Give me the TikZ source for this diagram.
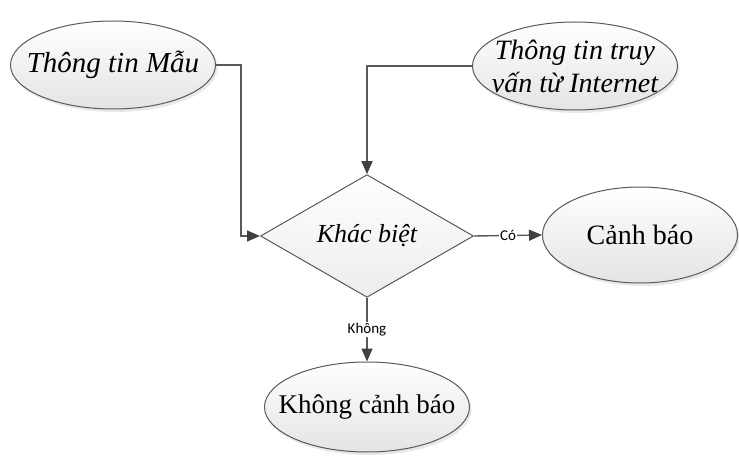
\documentclass[tikz,border=0pt]{standalone}
\usepackage{fontspec}
\setmainfont{Liberation Serif}
\newfontfamily\lblfont{Carlito}
\usetikzlibrary{shapes.geometric,arrows.meta,shadows}
\definecolor{fcline}{HTML}{595959}
\definecolor{fctip}{HTML}{404040}
\definecolor{fcshade}{HTML}{E4E4E4}

\tikzset{
  oval/.style={ellipse,draw=fcline,line width=1pt,inner xsep=-16pt,inner ysep=0pt,
    top color=white,bottom color=fcshade,
    drop shadow={shadow xshift=2pt,shadow yshift=-3pt,opacity=0.18},
    font=\fontsize{29}{33}\selectfont\itshape,align=center},
  decide/.style={diamond,draw=fcline,line width=1pt,inner sep=0pt,
    top color=white,bottom color=fcshade!70,
    font=\fontsize{26}{30}\selectfont\itshape},
  flow/.style={draw=fcline,line width=1.4pt,-{Triangle[length=13pt,width=11pt,fctip]}},
  tag/.style={fill=white,inner sep=1pt,font=\lblfont\fontsize{15}{15}\selectfont}
}

\begin{document}
\begin{tikzpicture}[x=1pt,y=-1pt]
  \useasboundingbox (0,0) rectangle (739,457);
  % inputs
  \node[oval,minimum width=205pt,minimum height=88pt] (mau) at (113,65) {Thông tin Mẫu};
  \node[oval,minimum width=205pt,minimum height=88pt,inner ysep=-8pt,
        font=\fontsize{28}{33}\selectfont\itshape] (net) at (575,66) {Thông tin truy\\vấn từ Internet};
  % comparison
  \node[decide,minimum width=213pt,minimum height=115pt] (kb) at (367,236) {Khác biệt};
  % outcomes
  \node[oval,minimum width=195pt,minimum height=96pt,font=\fontsize{28}{33}\selectfont] (warn) at (640,235) {Cảnh báo};
  \node[oval,minimum width=205pt,minimum height=90pt,font=\fontsize{27}{33}\selectfont] (nowarn) at (367,407) {Không cảnh báo};

  \draw[flow] (mau.east) -- ++(25,0) |- (kb.west);
  \draw[flow] (net.west) -| (kb.north);
  \draw[flow] (kb.east) -- node[tag]{Có} (warn.west);
  \draw[flow] (kb.south) -- node[tag]{Không} (nowarn.north);
\end{tikzpicture}
\end{document}
